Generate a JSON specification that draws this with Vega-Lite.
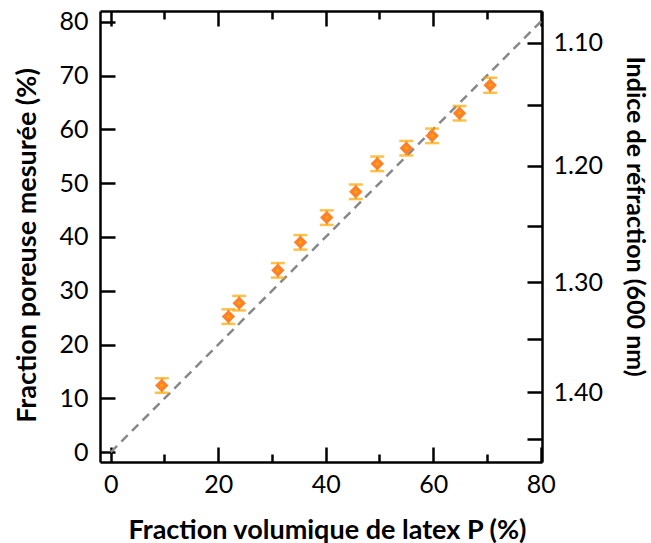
{
  "$schema": "https://vega.github.io/schema/vega-lite/v6.json",
  "autosize": "none",
  "width": 442,
  "height": 451,
  "padding": {"left": 100, "top": 11, "right": 109, "bottom": 81},
  "background": "white",
  "config": {
    "view": {"stroke": null},
    "font": "Lato",
    "axis": {"domainColor": "black", "tickColor": "black", "domainWidth": 2.5, "tickWidth": 2.5, "grid": false, "labelFont": "Lato", "labelFontSize": 25, "labelColor": "black", "titleFont": "Lato", "titleFontWeight": "bold", "titleColor": "black", "titleFontSize": 27}
  },
  "datasets": {
    "pts": [
      {"P": 9.5, "F": 12.4, "e": 1.35},
      {"P": 21.9, "F": 25.2, "e": 1.35},
      {"P": 23.9, "F": 27.7, "e": 1.35},
      {"P": 31.1, "F": 33.8, "e": 1.35},
      {"P": 35.3, "F": 39.0, "e": 1.35},
      {"P": 40.2, "F": 43.6, "e": 1.35},
      {"P": 45.6, "F": 48.4, "e": 1.35},
      {"P": 49.6, "F": 53.6, "e": 1.35},
      {"P": 55.0, "F": 56.5, "e": 1.35},
      {"P": 59.8, "F": 58.8, "e": 1.35},
      {"P": 64.9, "F": 63.0, "e": 1.35},
      {"P": 70.6, "F": 68.2, "e": 1.4}
    ],
    "ref": [
      {"P": 0, "F": 0},
      {"P": 80.25, "F": 80.25}
    ]
  },
  "layer": [
    {
      "data": {"name": "ref"},
      "mark": {"type": "line", "color": "#888888", "strokeWidth": 2.5, "strokeDash": [9, 6]},
      "encoding": {
        "x": {"field": "P", "type": "quantitative", "scale": {"domain": [-2, 80.25], "nice": false, "zero": false},
          "axis": {"orient": "bottom", "values": [0, 20, 40, 60, 80], "tickSize": -15, "labelPadding": 25, "title": "Fraction volumique de latex P (%)", "titleX": 227, "titleY": 76, "titleBaseline": "alphabetic", "titleAnchor": null}},
        "y": {"field": "F", "type": "quantitative", "scale": {"domain": [-1.82, 82], "nice": false, "zero": false},
          "axis": {"orient": "left", "values": [0, 10, 20, 30, 40, 50, 60, 70, 80], "tickSize": -15, "labelPadding": 27, "title": "Fraction poreuse mesurée (%)", "titleX": -73, "titleY": 234, "titleBaseline": "middle", "titleAnchor": null}}
      }
    },
    {
      "data": {"name": "pts"},
      "mark": {"type": "errorbar", "color": "#FFA500", "thickness": 2, "ticks": {"size": 14, "thickness": 2.5, "color": "#FFA500"}},
      "encoding": {
        "x": {"field": "P", "type": "quantitative",
          "axis": {"orient": "top", "values": [0, 20, 40, 60, 80], "tickSize": -15, "labels": false, "title": null}},
        "y": {"field": "F", "type": "quantitative",
          "axis": {"orient": "right", "values": [76.1, 64.6, 53.2, 42.1, 31.55, 21.05, 11.14, 2.49], "tickSize": -15, "labelPadding": 26,
            "labelExpr": "datum.value > 70 ? '1.10' : (datum.value > 50 && datum.value < 60) ? '1.20' : (datum.value > 30 && datum.value < 35) ? '1.30' : (datum.value > 10 && datum.value < 15) ? '1.40' : ''",
            "title": "Indice de réfraction (600 nm)", "titleX": 92, "titleY": 205, "titleBaseline": "middle", "titleAnchor": null, "titleAngle": 90, "titleFontSize": 25}},
        "yError": {"field": "e"}
      }
    },
    {
      "data": {"name": "pts"},
      "mark": {"type": "point", "shape": "diamond", "filled": true, "size": 180, "color": "#FF7F2A", "opacity": 1},
      "encoding": {
        "x": {"field": "P", "type": "quantitative",
          "axis": {"orient": "bottom", "values": [10, 30, 50, 70], "tickSize": -8, "labels": false, "domain": false, "title": null}},
        "y": {"field": "F", "type": "quantitative", "axis": null}
      }
    },
    {
      "data": {"name": "pts"},
      "mark": {"type": "point", "shape": "diamond", "filled": true, "size": 18, "color": "#FFA500", "opacity": 1},
      "encoding": {
        "x": {"field": "P", "type": "quantitative",
          "axis": {"orient": "top", "values": [10, 30, 50, 70], "tickSize": -8, "labels": false, "domain": false, "title": null}},
        "y": {"field": "F", "type": "quantitative", "axis": null}
      }
    }
  ],
  "resolve": {"axis": {"x": "independent", "y": "independent"}}
}
